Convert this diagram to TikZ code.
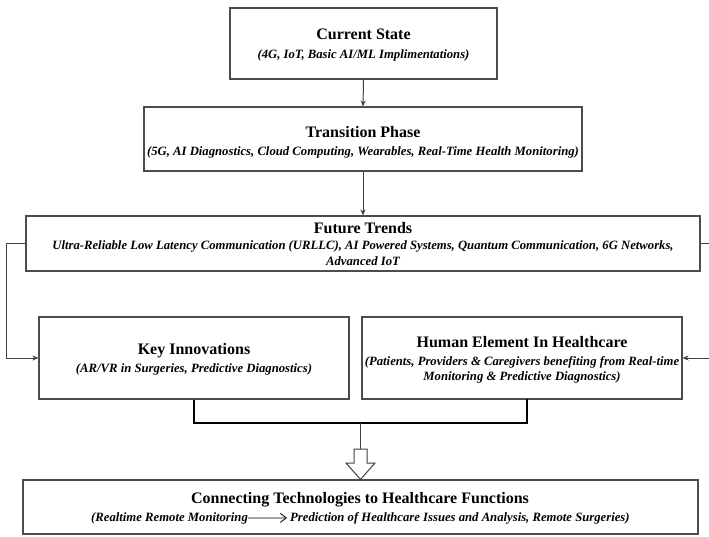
\documentclass[tikz,border=0pt]{standalone}
\usepackage{fontspec}
\setmainfont{Liberation Serif}
\usetikzlibrary{arrows.meta}
\begin{document}
\begin{tikzpicture}[x=1pt,y=-1pt,
  box/.style={draw=black!70, line width=1.1pt, fill=white, inner sep=0pt},
  ttl/.style={font=\fontsize{16}{19}\selectfont\bfseries, anchor=base, inner sep=0pt},
  sub/.style={font=\fontsize{12.7}{15}\selectfont\bfseries\itshape, anchor=base, inner sep=0pt},
  link/.style={draw=black!75, line width=1pt, -{Stealth[length=6pt,width=5pt]}},
  bracketline/.style={draw=black, line width=2pt},
  stem/.style={draw=black!75, line width=1.3pt},
  hollow/.style={draw=black!75, line width=1pt, fill=white, line join=miter},
  textarrow/.style={draw=black, line width=0.8pt, -{Straight Barb[length=6pt,width=9pt]}}
]
\useasboundingbox (0,0) rectangle (709,536);
\fill[white] (0,0) rectangle (709,536);

% boxes
\node[box, minimum width=267pt, minimum height=71pt] (cur) at (363.5,43.5) {};
\node[box, minimum width=438pt, minimum height=64pt] (trans) at (363,139) {};
\node[box, minimum width=674pt, minimum height=55pt] (fut) at (363,243.5) {};
\node[box, minimum width=310pt, minimum height=82pt] (key) at (194,358) {};
\node[box, minimum width=320pt, minimum height=82pt] (hum) at (522,358) {};
\node[box, minimum width=675pt, minimum height=54pt] (conn) at (360.5,507) {};

% texts
\node[ttl] (curt) at (363.5,39) {Current State};
\node[sub] (curs) at (363.5,58) {(4G, IoT, Basic AI/ML Implimentations)};

\node[ttl] (transt) at (363,137) {Transition Phase};
\node[sub] (transs) at (363,155) {(5G, AI Diagnostics, Cloud Computing, Wearables, Real-Time Health Monitoring)};

\node[ttl] (futt) at (363,233) {Future Trends};
\node[sub] (futs1) at (363,249) {Ultra-Reliable Low Latency Communication (URLLC), AI Powered Systems, Quantum Communication, 6G Networks,};
\node[sub] (futs2) at (363,265) {Advanced IoT};

\node[ttl] (keyt) at (194,354) {Key Innovations};
\node[sub] (keys) at (194,372) {(AR/VR in Surgeries, Predictive Diagnostics)};

\node[ttl] (humt) at (522,347) {Human Element In Healthcare};
\node[sub] (hums1) at (522,365) {(Patients, Providers \& Caregivers benefiting from Real-time};
\node[sub] (hums2) at (522,380) {Monitoring \& Predictive Diagnostics)};

\node[ttl] (connt) at (360,503) {Connecting Technologies to Healthcare Functions};
\node[sub, anchor=base west] (connl) at (91,521) {(Realtime Remote Monitoring};
\node[sub, anchor=base west] (connr) at (290,521) {Prediction of Healthcare Issues and Analysis, Remote Surgeries)};
\draw[textarrow, shorten >=3pt] (connl.east) -- (connr.west);

% connectors
\draw[link] (cur.south) -- (trans.north);
\draw[link] (trans.south) -- (fut.north);
\draw[link] (fut.west) -- ++(-19,0) |- (key.west);
\draw[link] (fut.east) -- ++(11,0) |- (hum.east);

% bracket
\coordinate (bl) at (194,423);
\coordinate (brr) at (527,423);
\coordinate (hb) at (527,399);
\draw[bracketline] (key.south) -- (bl) -- (brr) -- (hb);
\coordinate (bm) at (360.5,423);
\coordinate (at) at (360.5,449);
\draw[stem] (bm) -- (at);
\draw[hollow] (354,449) -- (367,449) -- (367,463) -- (375,463) -- (conn.north) -- (346,463) -- (354,463) -- cycle;
\end{tikzpicture}
\end{document}
